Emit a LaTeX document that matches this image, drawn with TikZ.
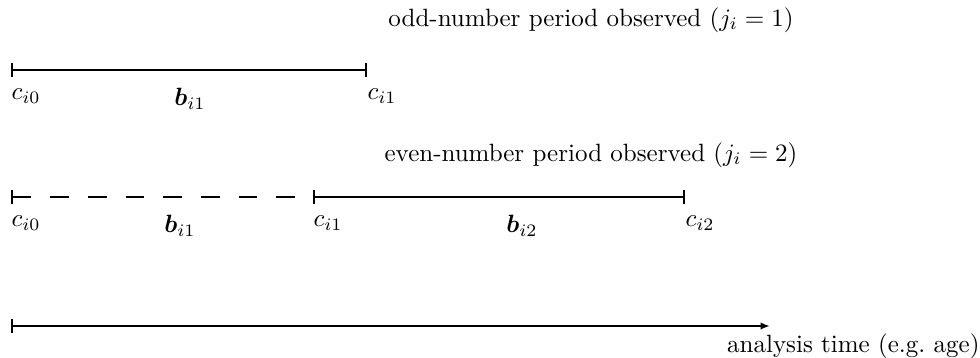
\documentclass[tikz,border=0pt]{standalone}
\usetikzlibrary{arrows.meta}
\usepackage{amsmath,bm}
\begin{document}
\begin{tikzpicture}[x=0.4pt,y=-0.4pt,
  seg/.style={line width=0.76pt},
  barboth/.style={seg,{Bar[width=5.7pt]}-{Bar[width=5.7pt]}},
  lbl/.style={anchor=north west,inner sep=0pt,yshift=-7.2pt},
  mid/.style={anchor=north,inner sep=0pt,yshift=-7.2pt},
  title/.style={inner sep=0pt}]
\useasboundingbox (0,0) rectangle (980,358);
% odd
\node[title] (t1) at (591,20) {odd-number period observed ($j_i=1$)};
\coordinate (a0) at (11,70);
\coordinate (a1) at (367,70);
\coordinate (am) at (190,70);
\draw[barboth] (a0) -- (a1);
\node[lbl] (la0) at (a0) {$c_{i0}$};
\node[mid] (lam) at (am) {$\bm{b}_{i1}$};
\node[lbl] (la1) at (a1) {$c_{i1}$};
% even
\node[title] (t2) at (591,155) {even-number period observed ($j_i=2$)};
\coordinate (e0) at (11,197);
\coordinate (e1) at (313,197);
\coordinate (e2) at (685,197);
\coordinate (em1) at (180,197);
\coordinate (em2) at (522,197);
\draw[seg,{Bar[width=5.7pt]}-,dash pattern=on 7.54pt off 7.54pt] (e0) -- (e1);
\draw[barboth] (e1) -- (e2);
\node[lbl] (le0) at (e0) {$c_{i0}$};
\node[mid] (lem1) at (em1) {$\bm{b}_{i1}$};
\node[lbl] (le1) at (e1) {$c_{i1}$};
\node[mid] (lem2) at (em2) {$\bm{b}_{i2}$};
\node[lbl] (le2) at (e2) {$c_{i2}$};
% axis
\coordinate (x0) at (11,326);
\coordinate (x1) at (770,326);
\draw[seg,{Bar[width=5.7pt]}-{Latex[length=3.8pt,width=3pt]}] (x0) -- (x1);
\node[anchor=base east,inner sep=0pt] (ax) at (980,353) {analysis time (e.g.\ age)};
\end{tikzpicture}
\end{document}
